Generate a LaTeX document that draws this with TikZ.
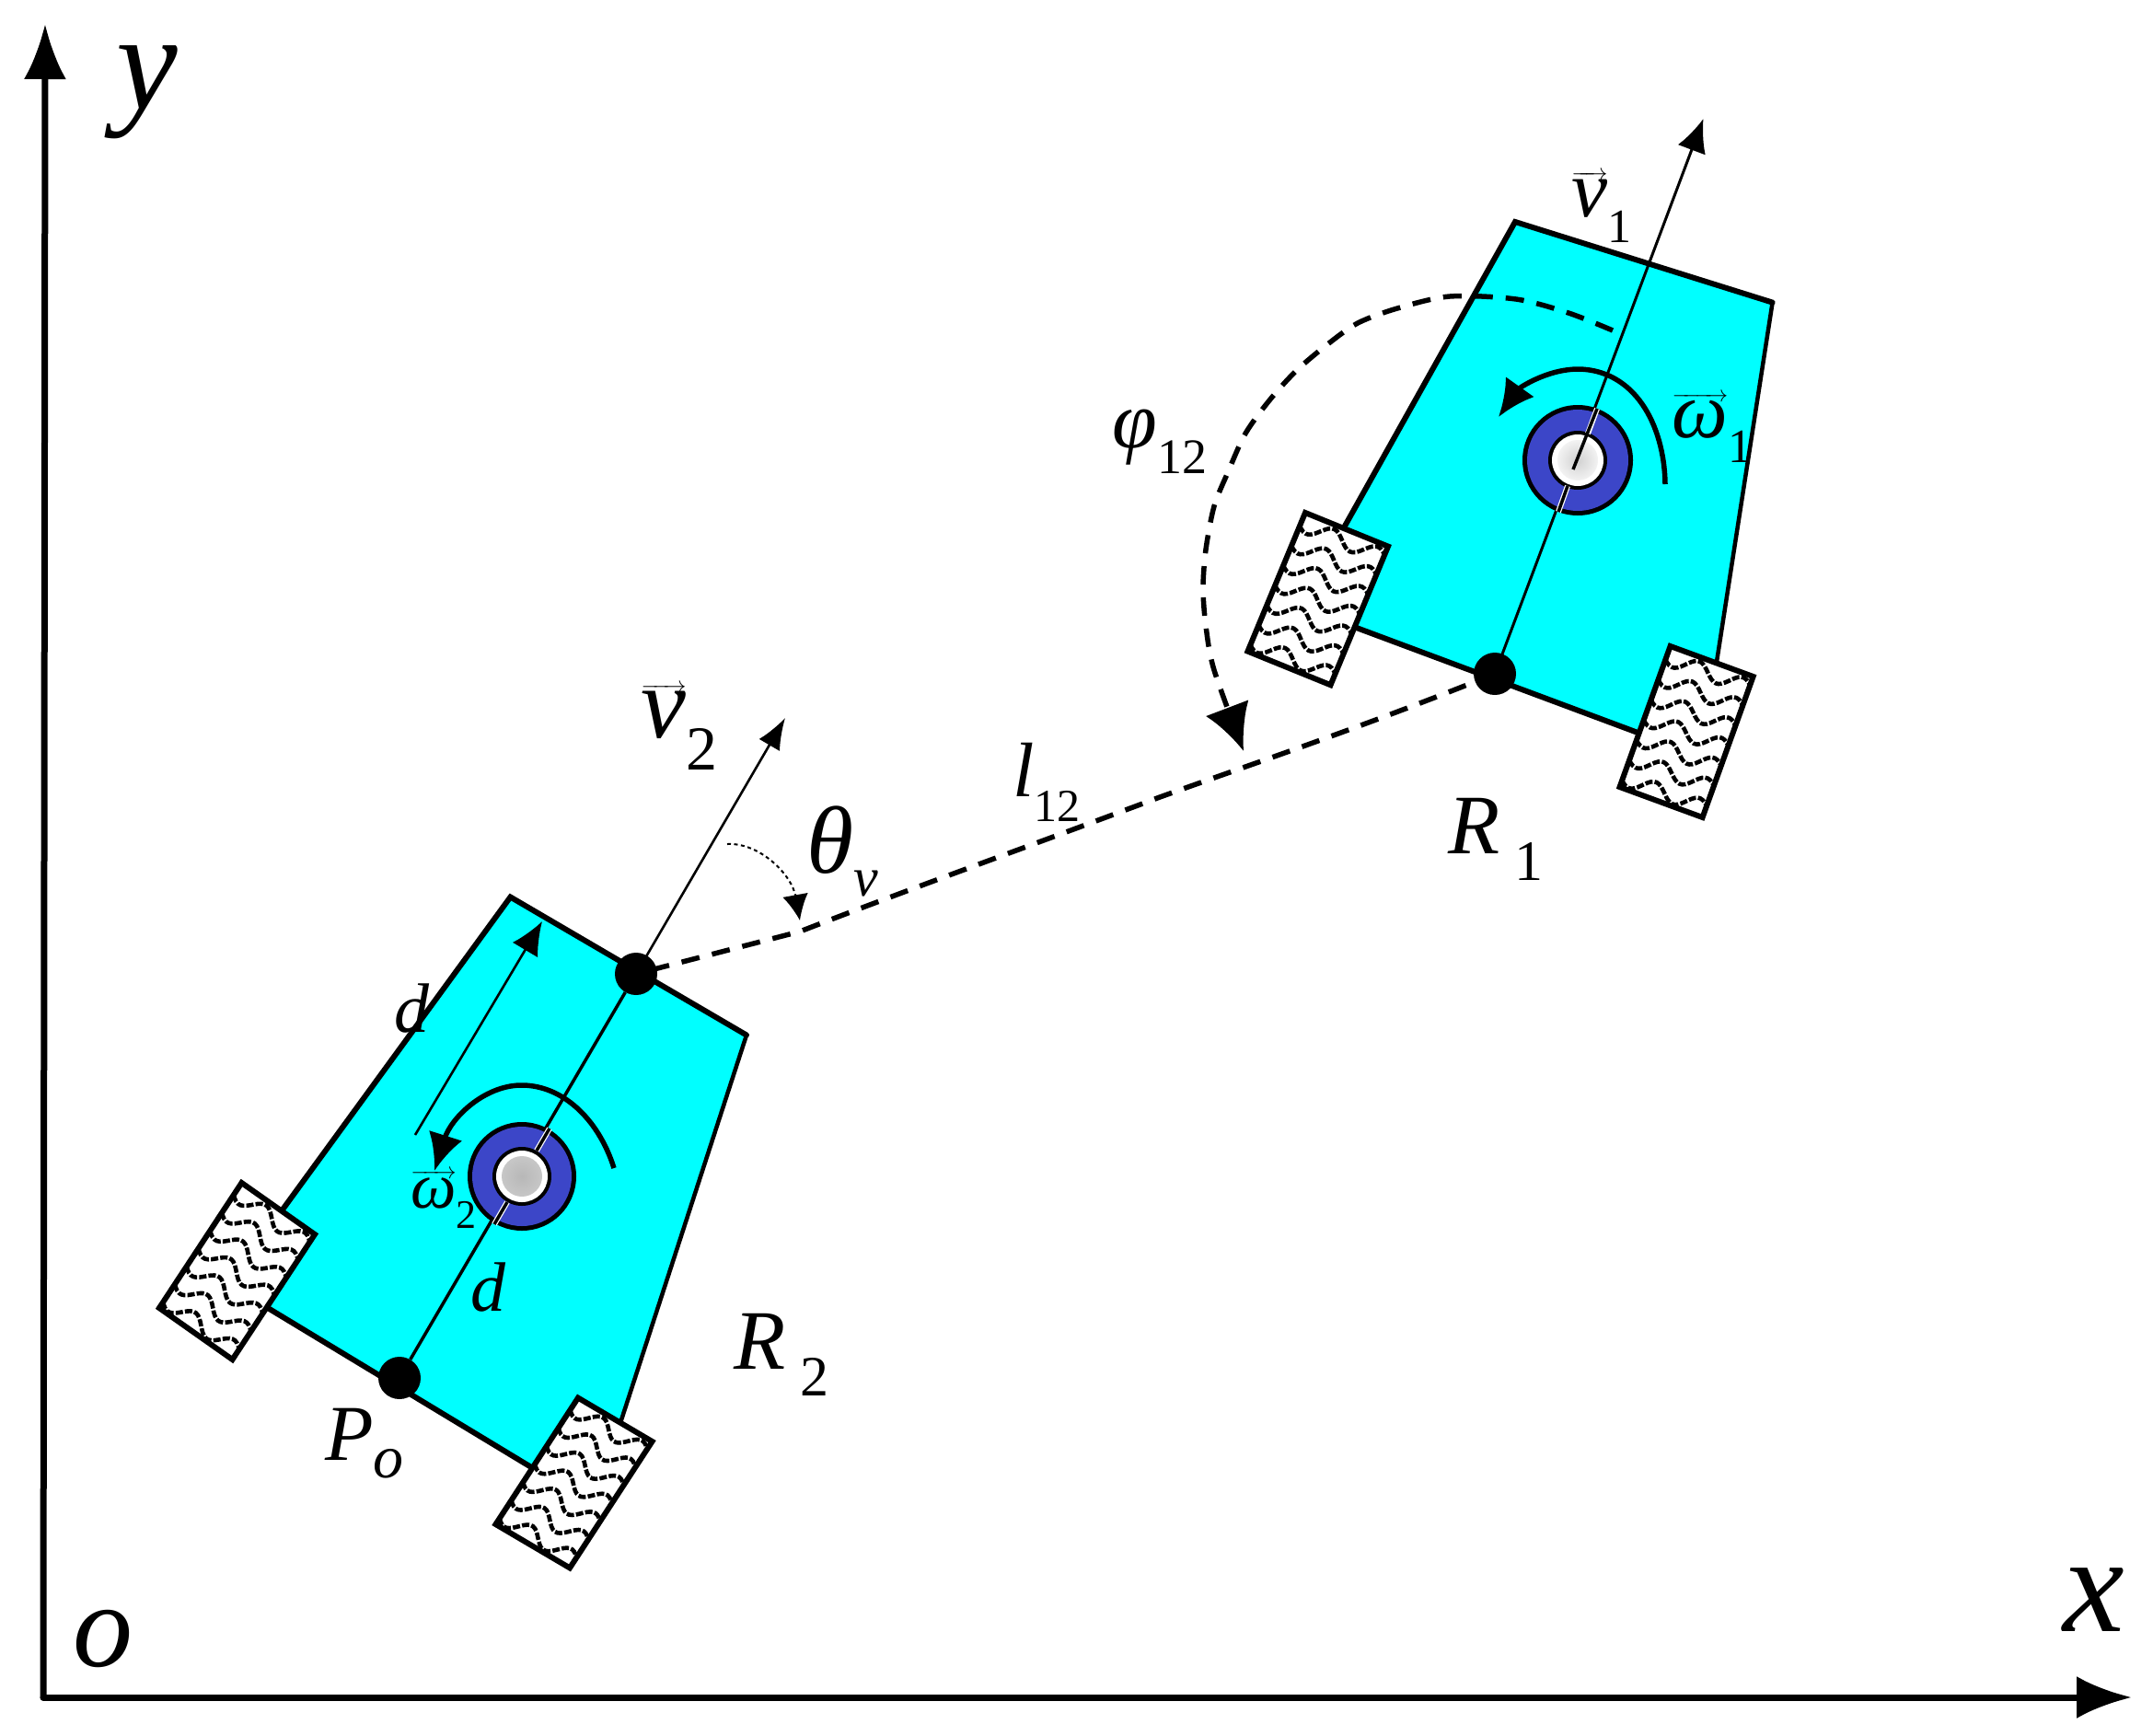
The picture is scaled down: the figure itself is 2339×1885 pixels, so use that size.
\documentclass[tikz,border=0pt]{standalone}
\usepackage{fontspec}
\setmainfont{Liberation Serif}
\usetikzlibrary{arrows.meta}
\definecolor{bodycyan}{HTML}{00FFFF}
\definecolor{ringblue}{HTML}{3C46C8}
\newcommand{\lbl}[2]{\fontsize{#1}{#1}\selectfont\itshape #2}
\newcommand{\subs}[2]{\raisebox{-.32em}{\fontsize{#1}{#1}\selectfont\upshape #2}}
\newcommand{\vecl}[1]{\ensuremath{\overrightarrow{\mbox{#1}}}}
\newcommand{\wheelbox}[7]{%
 \begin{scope}[shift={(#1,#2)},x={(#3pt,-#4pt)},y={(#5pt,-#6pt)}]
  \fill[white] (0,0) -- (1,0) -- (1,1) -- (0,1) -- cycle;
  \begin{scope}
   \clip (0,0) -- (1,0) -- (1,1) -- (0,1) -- cycle;
   \foreach \k in {1,...,#7}{
    \draw[hatchwave] plot[smooth,domain=0:1,samples=33] (\x,{(\k-0.45)/(#7)+0.05*sin(\x*680+20)});
   }
  \end{scope}
  \draw[wheeledge] (0,0) -- (1,0) -- (1,1) -- (0,1) -- cycle;
 \end{scope}}
\tikzset{
 axisline/.style={line width=7pt,-{Latex[length=60pt,width=46pt]}},
 bodyfill/.style={fill=bodycyan},
 bodyedge/.style={line width=6pt,line cap=round},
 wheeledge/.style={line width=6pt,line join=miter},
 hatchwave/.style={line width=4.6pt,dash pattern=on 8pt off 2.2pt},
 spine/.style={line width=3.5pt},
 veloc/.style={line width=2.6pt,-{Latex[length=34pt,width=26pt]}},
 blackdot/.style={circle,fill=black,inner sep=0pt,minimum size=46pt},
 turn/.style={line width=5.5pt,-{Latex[length=40pt,width=38pt]}},
 dashbold/.style={line width=5.5pt,dash pattern=on 20pt off 14pt},
 dimline/.style={line width=2.6pt,-{Latex[length=36pt,width=32pt]}},
 thindash/.style={line width=2pt,dash pattern=on 4pt off 3.5pt,-{Latex[length=28pt,width=28pt]}},
 txt/.style={inner sep=0pt,outer sep=0pt,black}
}
\begin{document}
\begin{tikzpicture}[x=1pt,y=-1pt]
\useasboundingbox (0,0) rectangle (2339,1885);
\fill[white] (0,0) rectangle (2339,1885);

% axes
\coordinate (org) at (47,1844);
\coordinate (ytip) at (49,26);
\coordinate (xtip) at (2316,1844);
\draw[axisline,line cap=round] (org) -- (ytip);
\draw[axisline,line cap=round] (org) -- (xtip);

% robot 2 body
\fill[bodyfill] (554.5,974.5) -- (811,1124.5) -- (645,1635) -- (248,1395) -- cycle;
\draw[bodyedge] (248,1395) -- (554.5,974.5) -- (811,1124.5);
\draw[line width=4.5pt] (811,1124.5) -- (645,1635);
\draw[bodyedge] (248,1395) -- (645,1635);
% robot 1 body
\fill[bodyfill] (1646,241) -- (1925.6,328.6) -- (1849,822) -- (1412,659) -- cycle;
\draw[bodyedge] (1412,659) -- (1646,241) -- (1925.6,328.6);
\draw[line width=4.5pt] (1925.6,328.6) -- (1849,822);
\draw[bodyedge] (1412,659) -- (1849,822);

% wheels
\wheelbox{262.5}{1285}{79.5}{56}{-89.5}{136}{7}
\wheelbox{628}{1518.6}{80.5}{47.4}{-89.5}{137.4}{7}
\wheelbox{1418}{557}{90}{36.6}{-62.5}{150.6}{7}
\wheelbox{1814.6}{702}{90}{33}{-55}{153}{7}

% key points
\node[blackdot] (dtop) at (691,1058) {};
\node[blackdot] (dbot) at (434,1497) {};
\node[blackdot,minimum size=46pt] (done) at (1624,732) {};
\coordinate (hubtwo) at (567,1278);
\coordinate (hubone) at (1714,500);
\coordinate (vtwotip) at (853,780);
\coordinate (vonetip) at (1850.5,129);

% spines and velocity arrows
\draw[spine] (dbot) -- (dtop);
\draw[veloc] (dtop.center) -- (vtwotip);
\draw[veloc,line width=3pt,-{Latex[length=36pt,width=32pt]}] (done.center) -- (vonetip);

% hub robot 2
\fill[black] (hubtwo) circle (59pt);
\fill[ringblue] (hubtwo) circle (54pt);
\fill[black] (hubtwo) circle (32pt);
\fill[white] (hubtwo) circle (28pt);
\shade[inner color=black!28,outer color=black!22] (hubtwo) circle (22pt);
\draw[white,line width=6pt] (597,1226) -- (583,1250);
\draw[black,line width=3.5pt] (597,1226) -- (583,1250);
\draw[white,line width=6pt] (551,1306) -- (537,1330);
\draw[black,line width=3.5pt] (551,1306) -- (537,1330);

% hub robot 1
\fill[black] (hubone) circle (60pt);
\fill[ringblue] (hubone) circle (55pt);
\fill[black] (hubone) circle (32pt);
\fill[white] (hubone) circle (28pt);
\shade[inner color=black!18,outer color=black!5] (hubone) circle (22pt);
\draw[white,line width=6pt] (1735,444) -- (1725,471);
\draw[black,line width=3.5pt] (1735,444) -- (1709,510);
\draw[white,line width=6pt] (1703,528) -- (1693,556);
\draw[black,line width=3.5pt] (1703,528) -- (1693,556);

% rotation arrows
\draw[turn] (667,1269) .. controls (650,1215) and (610,1178) .. (565,1179) .. controls (525,1180) and (490,1215) .. (472,1272);
\draw[turn] (1809,526) .. controls (1808,460) and (1775,402) .. (1715,401) .. controls (1680,401) and (1650,422) .. (1628,453);

% dimension arrows
\coordinate (dimstart) at (451,1233);
\coordinate (dimend) at (589,1001);
\draw[dimline] (dimstart) -- (dimend);

% relative angle and distance
\draw[dashbold] (done.center) .. controls (1480,790) and (1360,830) .. (1260,866) .. controls (1130,915) and (990,965) .. (869,1012) -- (dtop.center);
\draw[dashbold,-{Latex[length=50pt,width=50pt]}] plot[smooth] coordinates {(1752,359) (1704,340) (1647,325) (1575,322) (1518,335) (1475,351) (1441,375) (1408,403) (1379,435) (1353,471) (1334,513) (1319,550) (1310,597) (1307,639) (1310,680) (1319,728) (1351,816)};
\draw[thindash] (790,917) .. controls (825,915) and (860,950) .. (869,1000);

% labels
\node[txt] (lY) at (160,100) {\lbl{150}{y}};
\node[txt] (lX) at (2275,1738) {\lbl{150}{x}};
\node[txt] (lO) at (112,1780) {\lbl{130}{o}};
\node[txt] (lVone) at (1740,225) {\lbl{88}{\vecl{v}\subs{52}{1}}};
\node[txt] (lWone) at (1860,465) {\lbl{86}{\vecl{ω}\subs{52}{1}}};
\node[txt] (lPhi) at (1260,480) {\lbl{88}{φ\subs{54}{12}}};
\node[txt] (lRone) at (1625,912) {\lbl{92}{R\,\subs{62}{1}}};
\node[txt] (lTh) at (915,925) {\lbl{104}{θ\raisebox{-.24em}{\fontsize{60}{60}\selectfont\itshape v}}};
\node[txt] (lL) at (1137,850) {\lbl{84}{l\subs{50}{12}}};
\node[txt] (lVtwo) at (738,790) {\lbl{110}{\vecl{v}\subs{68}{2}}};
\node[txt] (lDa) at (447,1096) {\lbl{76}{d}};
\node[txt] (lWtwo) at (482,1303) {\lbl{70}{\vecl{ω}\subs{44}{2}}};
\node[txt] (lDb) at (530,1399) {\lbl{76}{d}};
\node[txt] (lRtwo) at (849,1472) {\lbl{92}{R\,\subs{62}{2}}};
\node[txt] (lP) at (396,1568) {\lbl{86}{P\raisebox{-.22em}{\fontsize{66}{66}\selectfont\itshape o}}};
\end{tikzpicture}
\end{document}
